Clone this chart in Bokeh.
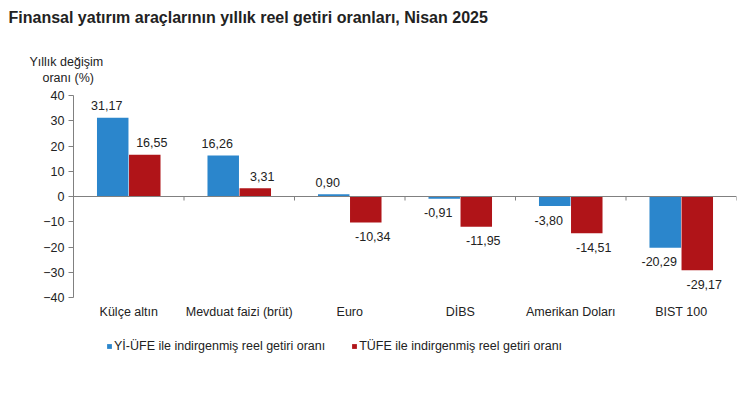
from bokeh.plotting import figure
from bokeh.models import ColumnDataSource, FactorRange, Legend, LegendItem, Span, FixedTicker, Range1d, Title
from bokeh.core.properties import value
from bokeh.transform import dodge
from bokeh.embed import file_html
from bokeh.resources import INLINE

categories = ["Külçe altın", "Mevduat faizi (brüt)", "Euro", "DİBS", "Amerikan Doları", "BIST 100"]
yi_ufe = [31.17, 16.26, 0.90, -0.91, -3.80, -20.29]
tufe = [16.55, 3.31, -10.34, -11.95, -14.51, -29.17]
series_names = ["Yİ-ÜFE ile indirgenmiş reel getiri oranı", "TÜFE ile indirgenmiş reel getiri oranı"]
y_ticks = [-40, -30, -20, -10, 0, 10, 20, 30, 40]
title_text = "Finansal yatırım araçlarının yıllık reel getiri oranları, Nisan 2025"
ylabel_lines = ["Yıllık değişim", "oranı (%)"]

BLUE = "#2B86CC"
RED = "#B01418"
FONT = "Liberation Sans"
TXT = "#222222"
FS = "12.5px"
W, H = 742, 391
TOP, BOTTOM, LEFT, RIGHT = 95, 4, 73, 6

def fmt(v):
    return f"{v:.2f}".replace(".", ",")

src = ColumnDataSource(dict(
    cat=categories,
    a=yi_ufe,
    b=tufe,
    a_lbl=[fmt(v) for v in yi_ufe],
    b_lbl=[fmt(v) for v in tufe],
    a_off=[-12 if v >= 0 else 14 for v in yi_ufe],
    b_off=[-12 if v >= 0 else 14 for v in tufe],
    base=[y_ticks[0]] * len(categories),
))

# the frame extends below -40 to hold the category labels and the legend
px_per_unit = 202 / (y_ticks[-1] - y_ticks[0])
y_bottom = y_ticks[-1] - (H - TOP - BOTTOM) / px_per_unit

p = figure(x_range=FactorRange(*categories, range_padding=0), y_range=Range1d(y_bottom, y_ticks[-1]),
           width=W, height=H, output_backend="svg", toolbar_location=None, title=None,
           x_axis_location=None,
           min_border_left=LEFT, min_border_right=RIGHT, min_border_top=TOP, min_border_bottom=BOTTOM)
p.outline_line_color = None
p.xgrid.visible = False
p.ygrid.visible = False

bw = 0.285
ra = p.vbar(x=dodge("cat", -0.145, range=p.x_range), top="a", width=bw, source=src,
            fill_color=BLUE, line_color=None)
rb = p.vbar(x=dodge("cat", 0.145, range=p.x_range), top="b", width=bw, source=src,
            fill_color=RED, line_color=None)

# zero line with boundary tick marks
p.add_layout(Span(location=0, dimension="width", line_color="#808080", line_width=1))
bounds = list(range(1, len(categories) + 1))
p.segment(x0=bounds, x1=bounds, y0=[0] * len(bounds), y1=[-4 / px_per_unit] * len(bounds),
          line_color="#808080", line_width=1)

# data labels
p.text(x=dodge("cat", -0.145, range=p.x_range), y="a", text="a_lbl", source=src,
       x_offset=-6, y_offset="a_off", text_align="center", text_baseline="middle",
       text_font=value(FONT), text_font_size=FS, text_color=TXT)
p.text(x=dodge("cat", 0.145, range=p.x_range), y="b", text="b_lbl", source=src,
       x_offset=7, y_offset="b_off", text_align="center", text_baseline="middle",
       text_font=value(FONT), text_font_size=FS, text_color=TXT)

# category labels under the axis
p.text(x="cat", y="base", text="cat", source=src, y_offset=14,
       text_align="center", text_baseline="middle",
       text_font=value(FONT), text_font_size=FS, text_color=TXT)

ya = p.yaxis[0]
ya.ticker = FixedTicker(ticks=y_ticks)
ya.bounds = (y_ticks[0], y_ticks[-1])
ya.axis_line_color = "#808080"
ya.major_tick_line_color = "#808080"
ya.major_tick_out = 5
ya.major_tick_in = 0
ya.minor_tick_line_color = None
ya.major_label_standoff = 4
ya.major_label_text_font = FONT
ya.major_label_text_font_size = FS
ya.major_label_text_color = TXT

legend = Legend(items=[LegendItem(label=series_names[0], renderers=[ra]),
                       LegendItem(label=series_names[1], renderers=[rb])],
                location=(33, 34), orientation="horizontal",
                glyph_width=6, glyph_height=6, label_standoff=2, spacing=26,
                padding=0, margin=0, border_line_color=None, background_fill_alpha=0,
                label_text_font=FONT, label_text_font_size=FS, label_text_color=TXT,
                label_height=12)
p.add_layout(legend, "center")

# above panel: first added sits closest to the frame
def spacer(h):
    return Title(text=" ", text_font_size="1px", standoff=h, align="left")

p.add_layout(spacer(8), "above")
p.add_layout(Title(text=ylabel_lines[1], align="left", offset=-31, standoff=0,
                   text_font=FONT, text_font_size=FS, text_font_style="normal",
                   text_color=TXT), "above")
p.add_layout(Title(text=ylabel_lines[0], align="left", offset=-44, standoff=0,
                   text_font=FONT, text_font_size=FS, text_font_style="normal",
                   text_color=TXT), "above")
p.add_layout(spacer(24), "above")
p.add_layout(Title(text=title_text, align="left", offset=-65, standoff=0,
                   text_font=FONT, text_font_size="16px", text_font_style="bold",
                   text_color=TXT), "above")

open("out.html", "w").write(file_html(p, INLINE))
